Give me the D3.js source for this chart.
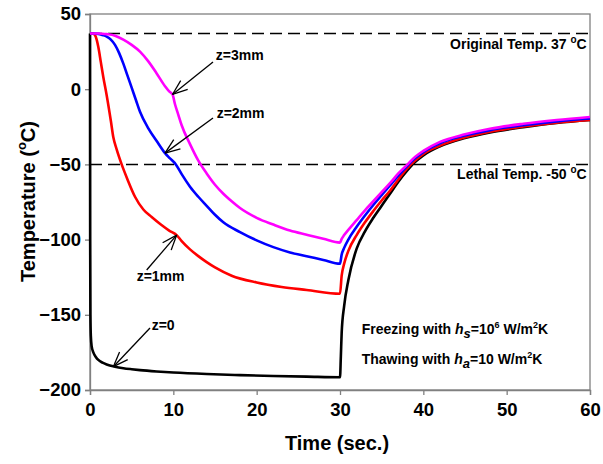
<!DOCTYPE html>
<html><head><meta charset="utf-8">
<script src="https://cdn.jsdelivr.net/npm/d3@7"></script>
<style>body{margin:0;background:#fff}text{font-family:"Liberation Sans",Arial,sans-serif;font-weight:bold;fill:#000}</style>
</head><body><svg id="c" width="603" height="464"></svg>
<script>
// ---- data ----
const xTicks = [0, 10, 20, 30, 40, 50, 60];
const yTicks = [50, 0, -50, -100, -150, -200];

const timeZ0 = [0,0.02,0.05,0.1,0.2,0.4,0.7,1,1.5,2,3,4,5,6,8,10,14,18,22,26,30,30.1,30.2,30.5,31,32,33,34,35,36,37,38,39,40,42,45,48,52,56,60];
const tempZ0 = [37,-100,-150,-164,-171,-175,-178,-180,-181.8,-183,-184.5,-185.5,-186.2,-186.8,-187.7,-188.4,-189.4,-190.1,-190.7,-191.1,-191.5,-178,-162,-144,-127,-106,-94.5,-85.5,-77.5,-69.5,-61.5,-54.5,-48.5,-44,-38,-32.5,-28.7,-25.3,-22.5,-20.5];

const timeZ1 = [0,0.3,0.6,0.8,1,1.3,1.6,2,2.5,2.8,3.2,3.8,4.5,5.4,6.4,7.4,8.5,9.5,10.4,11,12,13,14,15,17,20,23,26,30,30.2,30.5,31,32,33,34,35,36,37,38,39,40,42,45,48,52,56,60];
const tempZ1 = [37,37,36,33,28,18,8,-4,-21,-32,-40,-50,-60,-71.5,-80,-85,-90,-94,-97,-101,-106.5,-111,-115,-118.5,-124,-128.5,-131.5,-133.5,-136,-124,-116,-107.5,-97,-88.5,-81,-74,-67.5,-60,-53,-47.5,-43,-37.5,-32,-28.2,-24.8,-22.2,-20.5];

const timeZ2 = [0,0.5,1,1.5,2,2.5,3,3.5,4,4.5,5,5.5,6,7,8,9,9.6,10.3,11,12,13,14,15,16,18,20,22,24,26,28,30,30.2,30.5,31,32,33,34,35,36,37,38,39,40,42,45,48,52,56,60];
const tempZ2 = [37,37,36.8,36,35,33,29.5,24,17,9,1,-7,-15,-26,-34.5,-42.5,-46,-50,-56.5,-64.8,-71.5,-77.5,-83.5,-88.5,-95,-100.5,-105,-108.5,-111,-113.5,-116,-110,-105.5,-100,-91.5,-84,-77,-70.5,-64,-57.5,-51.5,-46,-41.8,-36,-30.8,-27.2,-24,-21.4,-19.5];

const timeZ3 = [0,1,1.5,2,3,4,5,6,7,8,9,9.5,9.9,10.2,10.6,11,12,13,14,15,16,17,18,20,22,24,26,28,30,30.2,30.5,31,32,33,34,35,36,37,38,39,40,42,45,48,52,56,60];
const tempZ3 = [37,37,36.9,36.6,35.6,33,29.5,25,18.5,10.5,2,-1.5,-3.5,-10,-17,-24,-36.5,-47.5,-56,-63.5,-69.5,-74.5,-79,-85.5,-90,-94,-96.8,-99.5,-102,-99.5,-97,-93.5,-87,-80.5,-74.5,-68.5,-62.5,-56,-50.5,-45,-41,-35,-30,-26.3,-23,-20.5,-18.5];

const seriesNames = ["z=0", "z=1mm", "z=2mm", "z=3mm"];
const seriesColors = ["#000000", "#ff0000", "#0000ff", "#ff00ff"];

const refValues = [37, -50];
const refLabels = ["Original Temp. 37 ", "Lethal Temp. -50 "];

// arrows: [t, v] of tail and tip, label position [t, v]
const arrowTails = [[7.2,-158.8],[6.8,-120.2],[14.76,-19.1],[14.76,18.1]];
const arrowTips  = [[2.8,-184.5],[10.4,-97],[9.0,-42.5],[9.9,-3.5]];
const labelPos   = [[7.4,-160.1],[5.6,-127.5],[15.2,-19.1],[15.1,19.4]];

// ---- chart ----
const svg = d3.select("#c");
const m = {l:90, r:13, t:14, b:74};
const W = 603, H = 464;
const x = d3.scaleLinear().domain([0,60]).range([m.l, W-m.r]);
const y = d3.scaleLinear().domain([-200,50]).range([H-m.b, m.t]);

// frame
svg.append("rect").attr("x",x(0)).attr("y",y(50)).attr("width",x(60)-x(0)).attr("height",y(-200)-y(50))
  .attr("fill","none").attr("stroke","#808080").attr("stroke-width",1.3);

// axes
const xAxis = svg.append("g").attr("transform",`translate(0,${y(-200)})`)
  .call(d3.axisBottom(x).tickValues(xTicks).tickSize(5).tickPadding(8));
const yAxis = svg.append("g").attr("transform",`translate(${x(0)},0)`)
  .call(d3.axisLeft(y).tickValues(yTicks).tickSize(5).tickPadding(4));
[xAxis,yAxis].forEach(g=>{
  g.select(".domain").attr("stroke","#808080").attr("stroke-width",1.3);
  g.selectAll(".tick line").attr("stroke","#808080").attr("stroke-width",1.3);
  g.selectAll(".tick text").attr("font-size",18.5).attr("font-weight","bold")
   .attr("font-family",'"Liberation Sans",Arial,sans-serif').attr("fill","#000");
});

// reference dashed lines
refValues.forEach((v,i)=>{
  svg.append("line").attr("x1",x(0)).attr("x2",x(60)).attr("y1",y(v)).attr("y2",y(v))
    .attr("stroke","#000").attr("stroke-width",1.5).attr("stroke-dasharray","12,6");
  const t = svg.append("text").attr("x",x(59.6)).attr("y",y(v)+15).attr("text-anchor","end").attr("font-size",14);
  t.append("tspan").text(refLabels[i]);
  t.append("tspan").attr("font-size",10).attr("dy",-6).text("o");
  t.append("tspan").attr("dy",6).text("C");
});

// curves
const times = [timeZ0,timeZ1,timeZ2,timeZ3];
const temps = [tempZ0,tempZ1,tempZ2,tempZ3];
const line = d3.line().x(d=>x(d[0])).y(d=>y(d[1])).curve(d3.curveMonotoneX);
times.forEach((ts,i)=>{
  const pts = ts.map((t,j)=>[t,temps[i][j]]);
  svg.append("path").datum(pts).attr("d",line).attr("fill","none")
    .attr("stroke",seriesColors[i]).attr("stroke-width",2.6).attr("stroke-linejoin","round");
});

// arrows + labels
arrowTails.forEach((tl,i)=>{
  const x1=x(tl[0]), y1=y(tl[1]), x2=x(arrowTips[i][0]), y2=y(arrowTips[i][1]);
  const g = svg.append("g").attr("stroke","#000").attr("stroke-width",1.3);
  g.append("line").attr("x1",x1).attr("y1",y1).attr("x2",x2).attr("y2",y2);
  const ang = Math.atan2(y1-y2,x1-x2), L=16, a=0.36;
  [ang-a, ang+a].forEach(b=>{
    g.append("line").attr("x1",x2).attr("y1",y2).attr("x2",x2+L*Math.cos(b)).attr("y2",y2+L*Math.sin(b));
  });
  svg.append("text").attr("x",x(labelPos[i][0])).attr("y",y(labelPos[i][1])).attr("font-size",14).text(seriesNames[i]);
});

// conditions text
function cond(tx, v, sub, val, sup){
  const t = svg.append("text").attr("x",x(tx)).attr("y",y(v)).attr("font-size",14);
  t.append("tspan").text(val[0]);
  t.append("tspan").attr("font-style","italic").text("h");
  t.append("tspan").attr("font-style","italic").attr("font-size",13).attr("dy",4).text(sub);
  t.append("tspan").attr("dy",-4).text(val[1]);
  if(sup){ t.append("tspan").attr("font-size",9).attr("dy",-6).text(sup); t.append("tspan").attr("dy",6).text(" W/m"); }
  else t.append("tspan").text(" W/m");
  t.append("tspan").attr("font-size",9).attr("dy",-6).text("2");
  t.append("tspan").attr("dy",6).text("K");
}
cond(32.6, -162.8, "s", ["Freezing with ", "=10"], "6");
cond(32.6, -182.7, "a", ["Thawing with ", "=10"], null);

// axis titles
svg.append("text").attr("x",(x(0)+x(60))/2 - 3).attr("y",450).attr("text-anchor","middle").attr("font-size",20).text("Time (sec.)");
const yt = svg.append("text").attr("transform",`translate(35,282) rotate(-90)`).attr("text-anchor","start").attr("font-size",20);
yt.append("tspan").text("Temperature (");
yt.append("tspan").attr("font-size",13).attr("dy",-9).text("o");
yt.append("tspan").attr("dy",9).text("C)");
</script></body></html>
